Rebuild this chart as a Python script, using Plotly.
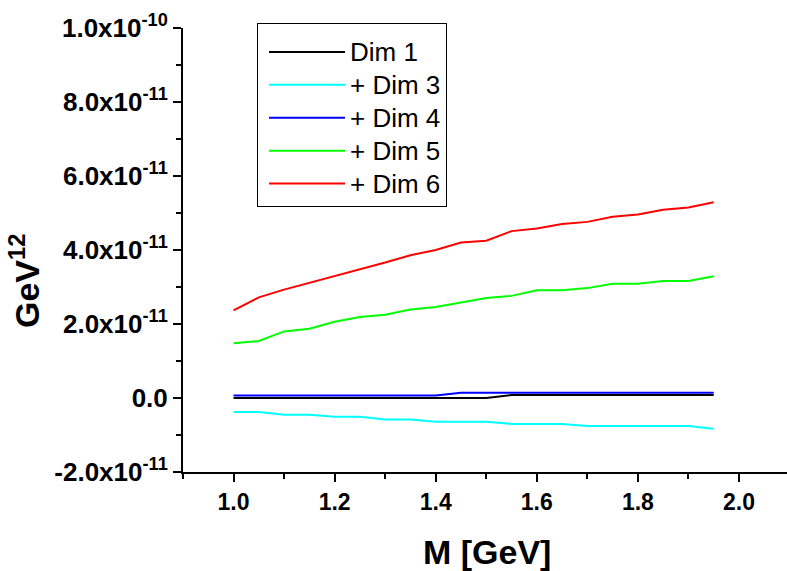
import plotly.graph_objects as go

M = [1.00, 1.05, 1.10, 1.15, 1.20, 1.25, 1.30, 1.35, 1.40, 1.45,
     1.50, 1.55, 1.60, 1.65, 1.70, 1.75, 1.80, 1.85, 1.90, 1.95]

dim1 = [0.00, 0.00, 0.00, 0.00, 0.00, 0.00, 0.00, 0.00, 0.00, 0.00,
        0.00, 0.08, 0.08, 0.08, 0.08, 0.08, 0.08, 0.08, 0.08, 0.08]
dim3 = [-0.38, -0.38, -0.45, -0.45, -0.51, -0.51, -0.58, -0.58, -0.64, -0.64,
        -0.64, -0.70, -0.70, -0.70, -0.76, -0.76, -0.76, -0.76, -0.76, -0.83]
dim4 = [0.07, 0.07, 0.07, 0.07, 0.07, 0.07, 0.07, 0.07, 0.07, 0.14,
        0.14, 0.14, 0.14, 0.14, 0.14, 0.14, 0.14, 0.14, 0.14, 0.14]
dim5 = [1.48, 1.54, 1.80, 1.87, 2.06, 2.19, 2.25, 2.39, 2.46, 2.58,
        2.70, 2.76, 2.91, 2.91, 2.97, 3.09, 3.09, 3.16, 3.16, 3.29]
dim6 = [2.37, 2.72, 2.93, 3.11, 3.30, 3.48, 3.66, 3.86, 4.00, 4.20,
        4.25, 4.51, 4.58, 4.70, 4.76, 4.90, 4.96, 5.09, 5.15, 5.29]
SCALE = 1e-11

series_names = ["Dim 1", "+ Dim 3", "+ Dim 4", "+ Dim 5", "+ Dim 6"]
series_vals = [dim1, dim3, dim4, dim5, dim6]
series_colors = ["#000000", "#00FFFF", "#0000FF", "#00FF00", "#FF0000"]

y_tickvals = [-2e-11, 0.0, 2e-11, 4e-11, 6e-11, 8e-11, 1e-10]
y_ticktext = ["-2.0x10<sup>-11</sup>", "0.0", "2.0x10<sup>-11</sup>",
              "4.0x10<sup>-11</sup>", "6.0x10<sup>-11</sup>",
              "8.0x10<sup>-11</sup>", "1.0x10<sup>-10</sup>"]

fig = go.Figure()
for name, vals, col in zip(series_names, series_vals, series_colors):
    fig.add_trace(go.Scatter(
        x=M, y=[v * SCALE for v in vals], mode="lines",
        name='<span style="font-size:26px">' + name + '</span>',
        line=dict(color=col, width=2),
    ))

FONT = "Liberation Sans, Arial, sans-serif"
fig.update_layout(
    width=787, height=571,
    margin=dict(l=183, r=0, t=28, b=99),
    paper_bgcolor="white", plot_bgcolor="white",
    font=dict(family=FONT, color="black"),
    showlegend=True,
    legend=dict(
        x=(257 - 183) / 604, y=(472 - 23) / 444, xanchor="left", yanchor="top",
        bordercolor="black", borderwidth=1, bgcolor="white",
        font=dict(size=23, family=FONT),
        itemwidth=76, indentation=6, traceorder="normal",
        title=dict(text=" ", font=dict(size=5, family=FONT)),
    ),
    xaxis=dict(
        range=[0.9, 2.095], showgrid=False, zeroline=False, automargin=False,
        showline=True, linecolor="black", linewidth=2,
        ticks="outside", ticklen=8, tickwidth=2, tickcolor="black",
        tick0=0, dtick=0.2, tickformat=".1f",
        tickfont=dict(size=23, family=FONT, weight="bold"),
        minor=dict(ticks="outside", ticklen=5, tickwidth=2, tickcolor="black", dtick=0.1, tick0=0),
    ),
    yaxis=dict(
        range=[-2e-11, 1e-10], showgrid=False, zeroline=False, automargin=False,
        showline=True, linecolor="black", linewidth=2,
        ticks="outside", ticklen=8, tickwidth=2, tickcolor="black",
        tickmode="array", tickvals=y_tickvals, ticktext=y_ticktext,
        tickfont=dict(size=26, family=FONT, weight="bold"),
        minor=dict(ticks="outside", ticklen=5, tickwidth=2, tickcolor="black",
                   tickmode="linear", dtick=1e-11, tick0=0),
    ),
    annotations=[
        dict(text="M [GeV]", xref="paper", yref="paper",
             x=(487 - 183) / 604, y=-(552 - 472) / 444,
             xanchor="center", yanchor="middle", showarrow=False,
             font=dict(size=34, family=FONT, weight="bold")),
        dict(text="GeV<sup>12</sup>", xref="paper", yref="paper",
             x=-(183 - 24) / 604, y=(472 - 281) / 444, textangle=-90,
             xanchor="center", yanchor="middle", showarrow=False,
             font=dict(size=34, family=FONT, weight="bold")),
    ],
)

fig.write_html("out.html", config={"displayModeBar": False},
               post_script="document.body.style.margin='0';document.body.style.overflow='hidden';")
